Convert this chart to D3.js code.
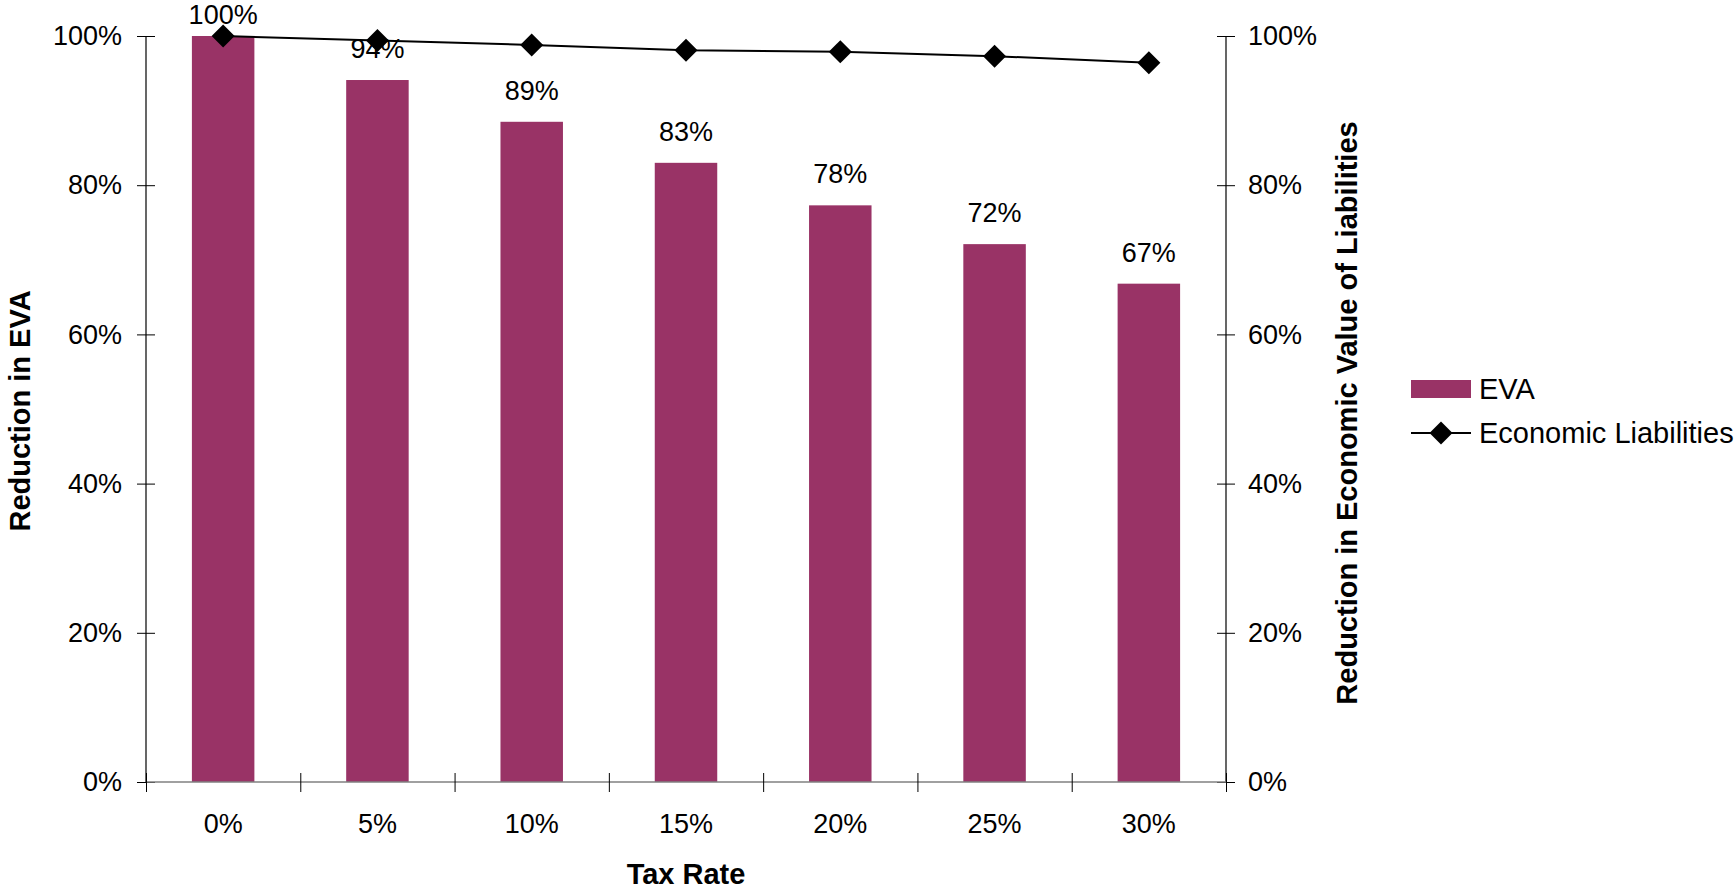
<!DOCTYPE html>
<html><head><meta charset="utf-8">
<script src="https://cdn.jsdelivr.net/npm/d3@7"></script>
<style>
html,body{margin:0;padding:0;background:#fff;}
svg{display:block;font-family:"Liberation Sans",Arial,sans-serif;}
</style></head>
<body>
<svg id="chart" width="1735" height="890"></svg>
<script>
const categories = ["0%","5%","10%","15%","20%","25%","30%"];
const evaValues = [1.00, 0.941, 0.885, 0.830, 0.773, 0.721, 0.668];
const evaLabels = ["100%","94%","89%","83%","78%","72%","67%"];
const liabilityValues = [1.00, 0.994, 0.988, 0.981, 0.979, 0.973, 0.964];
const yTicks = [0, 0.2, 0.4, 0.6, 0.8, 1.0];
const seriesNames = ["EVA", "Economic Liabilities"];

const svg = d3.select("#chart");
const L = 146, R = 1226, T = 36, B = 782;
const barColor = "#993366";
const fs = 27;
const tfs = 29;

const x = d3.scaleBand().domain(categories).range([L, R]).paddingInner(0.595).paddingOuter(0.2975);
const xb = d3.scaleLinear().domain([0, categories.length]).range([L, R]);
const y = d3.scaleLinear().domain([0, 1]).range([B, T]);
const y2 = d3.scaleLinear().domain([0, 1]).range([B, T]);
const fmt = d3.format(".0%");

// bars
svg.append("g").selectAll("rect").data(evaValues).join("rect")
  .attr("x", (d, i) => x(categories[i]))
  .attr("width", x.bandwidth())
  .attr("y", d => y(d))
  .attr("height", d => B - y(d))
  .attr("fill", barColor);

// bar labels
svg.append("g").selectAll("text").data(evaValues).join("text")
  .attr("x", (d, i) => x(categories[i]) + x.bandwidth() / 2)
  .attr("y", d => Math.max(y(d) - 22, 24))
  .attr("text-anchor", "middle")
  .attr("font-size", fs)
  .attr("fill", "#000")
  .text((d, i) => evaLabels[i]);

// left axis
const gl = svg.append("g").attr("transform", `translate(${L},0)`)
  .call(d3.axisLeft(y).tickValues(yTicks).tickFormat(fmt).tickSize(9).tickPadding(15));
gl.select(".domain").attr("stroke", "#000").attr("stroke-width", 1.2).attr("d", `M0,${T}V${B}`);
gl.selectAll(".tick line").attr("x2", 9).attr("x1", -9).attr("stroke", "#000");
gl.selectAll(".tick text").attr("font-size", fs).attr("font-family", "Liberation Sans, Arial, sans-serif").attr("fill", "#000");

// right axis
const gr = svg.append("g").attr("transform", `translate(${R},0)`)
  .call(d3.axisRight(y2).tickValues(yTicks).tickFormat(fmt).tickSize(9).tickPadding(13));
gr.select(".domain").attr("stroke", "#000").attr("stroke-width", 1.2).attr("d", `M0,${T}V${B}`);
gr.selectAll(".tick line").attr("x1", -9).attr("x2", 9).attr("stroke", "#000");
gr.selectAll(".tick text").attr("font-size", fs).attr("font-family", "Liberation Sans, Arial, sans-serif").attr("fill", "#000");

// bottom axis: boundary ticks
const gb = svg.append("g").attr("transform", `translate(0,${B})`)
  .call(d3.axisBottom(xb).tickValues(d3.range(categories.length + 1)).tickFormat("").tickSize(10));
gb.select(".domain").attr("stroke", "#808080").attr("stroke-width", 1.6).attr("d", `M${L},0H${R}`);
gb.selectAll(".tick line").attr("y1", -9).attr("y2", 10).attr("stroke", "#000");

// bottom axis labels
const gbl = svg.append("g").attr("transform", `translate(0,${B})`)
  .call(d3.axisBottom(x).tickSize(0).tickPadding(32));
gbl.select(".domain").remove();
gbl.selectAll(".tick text").attr("font-size", fs).attr("font-family", "Liberation Sans, Arial, sans-serif").attr("fill", "#000");

// line series
const line = d3.line().x((d, i) => x(categories[i]) + x.bandwidth() / 2).y(d => y2(d));
svg.append("path").datum(liabilityValues).attr("d", line)
  .attr("fill", "none").attr("stroke", "#000").attr("stroke-width", 2);
const diamond = d3.symbol().type(d3.symbolSquare).size(265);
svg.append("g").selectAll("path").data(liabilityValues).join("path")
  .attr("d", diamond())
  .attr("transform", (d, i) => `translate(${x(categories[i]) + x.bandwidth() / 2},${y2(d)}) rotate(45)`)
  .attr("fill", "#000");

// axis titles
svg.append("text").attr("x", (L + R) / 2).attr("y", 884)
  .attr("text-anchor", "middle").attr("font-size", tfs).attr("font-weight", "bold").text("Tax Rate");
svg.append("text").attr("transform", `translate(30,${(T + B) / 2 + 2}) rotate(-90)`)
  .attr("text-anchor", "middle").attr("font-size", tfs).attr("font-weight", "bold").text("Reduction in EVA");
svg.append("text").attr("transform", `translate(1357,${(T + B) / 2 + 4}) rotate(-90)`)
  .attr("text-anchor", "middle").attr("font-size", tfs).attr("font-weight", "bold").text("Reduction in Economic Value of Liabilities");

// legend
const lg = svg.append("g").attr("transform", "translate(1411,0)");
lg.append("rect").attr("x", 0).attr("y", 380).attr("width", 60).attr("height", 18).attr("fill", barColor);
lg.append("text").attr("x", 68).attr("y", 399).attr("font-size", 29).text(seriesNames[0]);
lg.append("line").attr("x1", 0).attr("x2", 60).attr("y1", 433).attr("y2", 433).attr("stroke", "#000").attr("stroke-width", 2);
lg.append("path").attr("d", diamond()).attr("transform", "translate(30,433) rotate(45)").attr("fill", "#000");
lg.append("text").attr("x", 68).attr("y", 443).attr("font-size", 29).text(seriesNames[1]);
</script>
</body></html>
